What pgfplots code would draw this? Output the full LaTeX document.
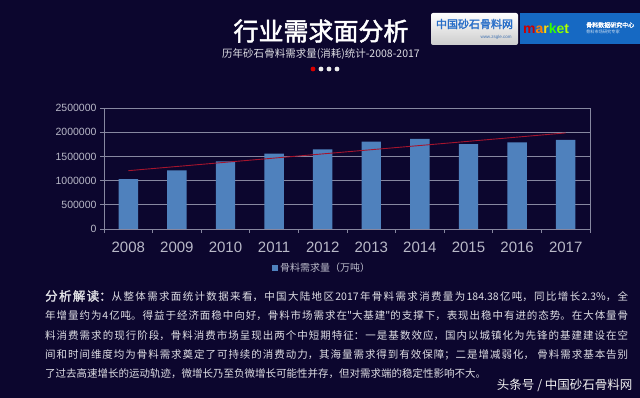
\documentclass[border=0pt]{standalone}
\usepackage{pgfplots}
\pgfplotsset{compat=1.18}
\usepackage{fontspec}
\setmainfont{Liberation Sans}
\newfontfamily\cjk{Noto Sans CJK SC}
\newfontfamily\cjkb[FakeBold=2]{Noto Sans CJK SC}
\XeTeXlinebreaklocale "zh"
\XeTeXlinebreakskip=0pt plus 1pt
\definecolor{bg}{RGB}{12,6,46}
\definecolor{barblue}{RGB}{79,129,189}
\definecolor{trend}{RGB}{165,20,45}
\definecolor{gridc}{RGB}{135,135,160}
\definecolor{tickc}{RGB}{185,185,200}
\definecolor{txt}{RGB}{222,222,228}
\definecolor{logoblue}{RGB}{22,105,195}
\definecolor{logotxt}{RGB}{40,110,200}
\pgfplotstableread{
x val
0 1030000
1 1213000
2 1399000
3 1556000
4 1646000
5 1804000
6 1860000
7 1756000
8 1791000
9 1843800
}\demand
\begin{document}
\begin{tikzpicture}[x=1pt,y=1pt]
\fill[bg] (0,0) rectangle (640,398);
% title
\node[white, font=\cjkb\fontsize{25}{25}\selectfont] at (321,367) {行业需求面分析};
\node[txt, font=\cjk\fontsize{10.5}{10.5}\selectfont] at (321,344) {历年砂石骨料需求量(消耗)统计-2008-2017};
\fill[red!85!black] (313,329) circle (2.4);
\fill[white!85!gray] (321,329) circle (2.4);
\fill[white!85!gray] (329,329) circle (2.4);
\fill[white!85!gray] (337,329) circle (2.4);
% logos
\shade[top color=white, bottom color=gray!40, rounded corners=2pt] (431,353) rectangle (518,385);
\node[logotxt, font=\cjkb\fontsize{11}{11}\selectfont] at (474.5,374) {中国砂石骨料网};
\node[logotxt!70!gray, font=\fontsize{4.5}{4.5}\selectfont] at (496,361) {www.zsgle.com};
\fill[logoblue] (520,354) rectangle (640,385);
\node[anchor=west, font=\fontsize{14}{14}\selectfont\bfseries, inner sep=0] at (523,369) {\textcolor{red!80!black}{m}\textcolor{orange}{a}\textcolor{yellow!80!orange}{r}\textcolor{green!80!yellow}{k}\textcolor{green!50!yellow}{e}\textcolor{green!30!yellow}{t}};
\node[white, anchor=west, font=\cjkb\fontsize{6}{6}\selectfont, inner sep=0] at (586,373) {骨料数据研究中心};
\node[white!80!logoblue, anchor=west, font=\cjk\fontsize{4.2}{4.2}\selectfont, inner sep=0] at (586,366) {骨料市场研究专家};
\begin{axis}[
  at={(104pt,169pt)}, anchor=south west,
  scale only axis, width=486pt, height=121pt,
  xmin=-0.5, xmax=9.5, ymin=0, ymax=2500000,
  xtick={0,...,9},
  xticklabels={2008,2009,2010,2011,2012,2013,2014,2015,2016,2017},
  minor xtick={-0.5,0.5,...,9.5},
  ytick={0,500000,1000000,1500000,2000000,2500000},
  xtick pos=bottom, ytick pos=left,
  scaled y ticks=false,
  /pgf/number format/assume math mode=true,
  /pgf/number format/fixed,
  /pgf/number format/precision=0,
  /pgf/number format/1000 sep={},
  ymajorgrids, major grid style={gridc, line width=0.6pt},
  axis line style={gridc, line width=0.6pt},
  tick align=outside,
  major x tick style={draw=none},
  minor x tick style={gridc, line width=0.6pt},
  minor tick length=4pt,
  major tick length=4pt,
  ytick style={gridc, line width=0.6pt},
  xticklabel style={tickc, font=\fontsize{15}{15}\selectfont, yshift=-5pt},
  yticklabel style={tickc, font=\fontsize{10.5}{10.5}\selectfont, xshift=0pt},
  legend style={at={(0.449,-0.32)}, anchor=center, draw=none, fill=none,
     text=tickc, font=\cjk\fontsize{10}{10}\selectfont, inner sep=0pt},
  legend image code/.code={\fill[barblue] (0pt,-3pt) rectangle (6pt,3pt);},
]
\addplot[ybar, bar width=19.4pt, fill=barblue, draw=none] table[x=x, y=val] {\demand};
\addlegendentry{骨料需求量（万吨）}
\addplot[trend, line width=0.9pt, forget plot] coordinates {(0,1205000) (9,1985000)};
\end{axis}
% paragraph
\node[anchor=north west, inner sep=0, txt] at (45,108) {\parbox{583pt}{\cjk\fontsize{10.5}{19.2}\selectfont
{\cjkb\fontsize{12.5}{19.2}\selectfont 分析解读：}从整体需求面统计数据来看，中国大陆地区2017年骨料需求消费量为184.38亿吨，同比增长2.3\%，全\linebreak
年增量约为4亿吨。得益于经济面稳中向好，骨料市场需求在"大基建"的支撑下，表现出稳中有进的态势。在大体量骨\linebreak
料消费需求的现行阶段，骨料消费市场呈现出两个中短期特征：一是基数效应，国内以城镇化为先锋的基建建设在空\linebreak
间和时间维度均为骨料需求奠定了可持续的消费动力，其海量需求得到有效保障；二是增减弱化， 骨料需求基本告别\linebreak
了过去高速增长的运动轨迹，微增长乃至负微增长可能性并存，但对需求端的稳定性影响不大。}};
\node[anchor=east, white!90!gray, font=\cjk\fontsize{12.5}{12.5}\selectfont] at (636,13) {头条号 / 中国砂石骨料网};
\end{tikzpicture}
\end{document}
